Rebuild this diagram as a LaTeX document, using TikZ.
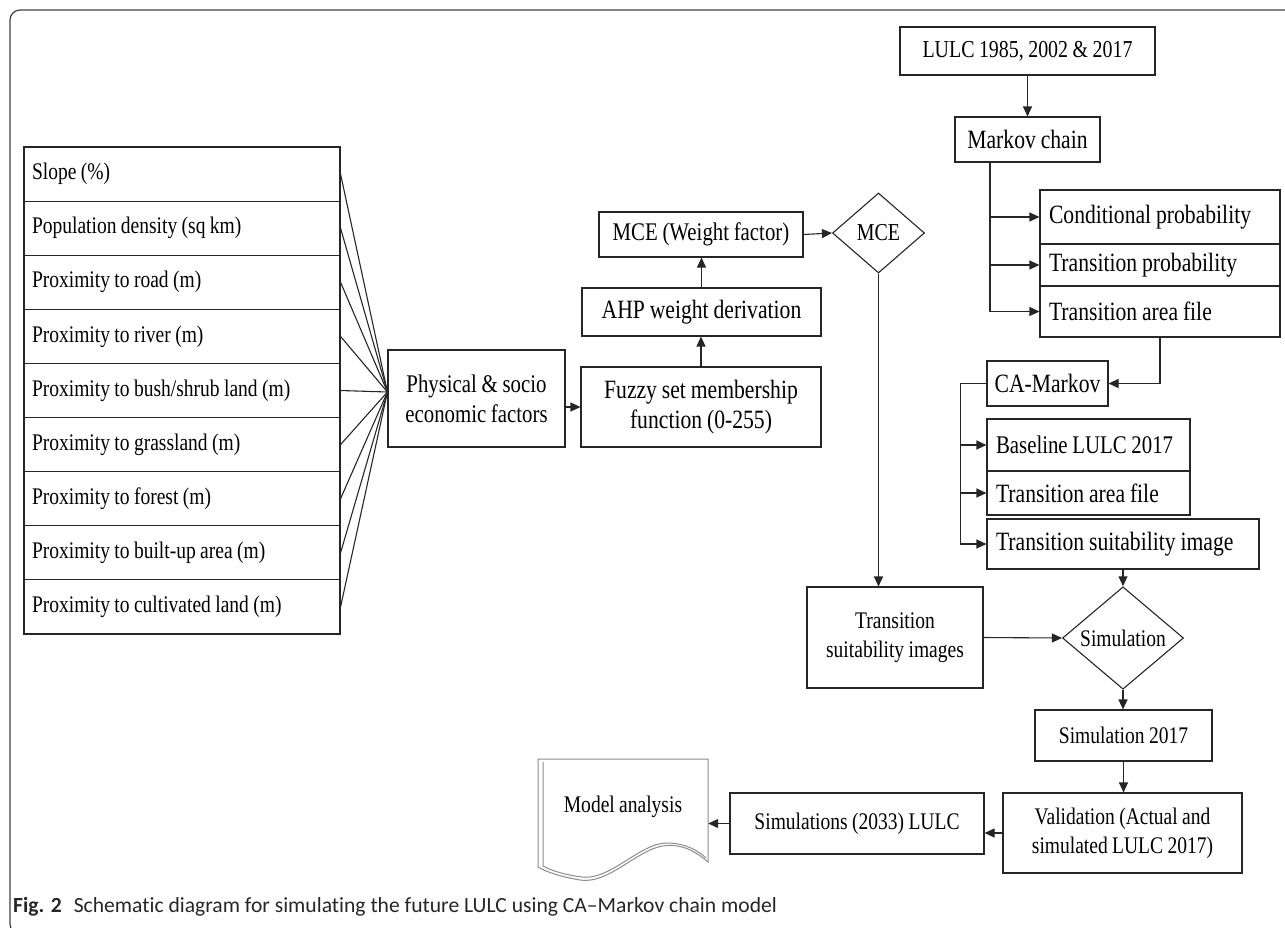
\documentclass[tikz,border=0pt]{standalone}
\usepackage{fontspec}
\setmainfont[FakeStretch=0.82,WordSpace=0.9]{Liberation Serif}
\newfontfamily\capfont[Ligatures=NoCommon]{Carlito}
\usetikzlibrary{arrows.meta,shapes.geometric,calc}
\newcommand\szA{\fontsize{23.8}{29}\selectfont}
\newcommand\szB{\fontsize{26.4}{30}\selectfont}
\newcommand\szM{\fontsize{25.4}{30}\selectfont}
\newcommand\szL{\fontsize{24.3}{28}\selectfont}
\newcommand\zs{\spaceskip=0pt\xspaceskip=0pt\relax}
\tikzset{
  box/.style={draw=black!85, line width=1.1pt, inner sep=0pt, align=center, font=\szB},
  row/.style={box, font=\szA, text width=300pt, align=left, minimum width=316pt, minimum height=54.1pt},
  srow/.style={box, align=left},
  arr/.style={draw=black!85, line width=1.1pt, -{Triangle[length=10pt,width=9pt]}},
  ln/.style={draw=black!85, line width=1.1pt},
  docline/.style={draw=black!45, line width=1pt},
}
\begin{document}
\begin{tikzpicture}[x=1pt,y=-1pt]
\useasboundingbox (0,0) rectangle (1285,927);
\draw[line width=1.2pt, black!75, rounded corners=10pt] (1300,10) -- (10,10) -- (10,934) -- (1300,934);

% left list
\foreach \t [count=\i] in {Slope (\%),Population density (sq km),Proximity to road (m),Proximity to river (m),Proximity to bush/shrub land (m),Proximity to grassland (m),Proximity to forest (m),Proximity to built-up area (m),Proximity to cultivated land (m)}
  \node[row] (r\i) at (182,{147+54.11*(\i-0.5)}) {\zs\t};

\node[box, font=\szM, minimum width=177pt, minimum height=97pt] (phys) at (476.5,398.5) {Physical \& socio\\economic factors};
\coordinate (j) at ([yshift=6.5pt]phys.west);
\foreach \i in {1,...,9} \draw[ln] (r\i.east) -- (j);

\node[box, minimum width=240pt, minimum height=80pt] (fuzzy) at (701,407) {Fuzzy set membership\\function (0-255)};
\node[box, minimum width=239pt, minimum height=48pt] (ahp) at (701.5,312) {AHP weight derivation};
\node[box, font=\szM, minimum width=204pt, minimum height=45pt] (mcew) at (701,234.5) {MCE (Weight factor)};
\node[box, diamond, font=\szL, minimum width=92pt, minimum height=80pt] (mce) at (878.5,233) {MCE};
\draw[arr] (phys.east |- fuzzy.west) -- (fuzzy.west);
\draw[arr] (fuzzy.north) -- (fuzzy.north |- ahp.south);
\draw[arr] (ahp.north) -- (ahp.north |- mcew.south);
\draw[arr] (mcew.east) -- (mce.west);

% Markov part
\node[box, font=\szL, minimum width=255pt, minimum height=48pt] (lulc) at (1027.5,51) {LULC 1985, 2002 \& 2017};
\node[box, minimum width=145pt, minimum height=45pt] (markov) at (1027.5,139.5) {Markov chain};
\draw[arr] (lulc.south) -- (markov.north);
\node[srow, minimum width=240pt, minimum height=54pt, text width=222pt] (cond) at (1160,217) {\zs Conditional probability};
\node[srow, minimum width=240pt, minimum height=42pt, text width=222pt] (tprob) at (1160,265) {\zs Transition probability};
\node[srow, minimum width=240pt, minimum height=51pt, text width=222pt] (tarea) at (1160,311.5) {\zs Transition area file};
\coordinate (mbr) at ([xshift=-37.5pt]markov.south);
\draw[arr] (mbr) |- (cond.west);
\draw[arr] (mbr) |- (tprob.west);
\draw[arr] (mbr) |- (tarea.west);

% CA-Markov part
\node[box, minimum width=121pt, minimum height=45pt] (cam) at (1047.5,383.5) {CA-Markov};
\draw[arr] (tarea.south) |- (cam.east);
\coordinate (cb) at ([xshift=-26pt]cam.west);
\draw[ln] (cam.west) -- (cb);
\node[srow, font=\szM, minimum width=203pt, minimum height=52pt, text width=185pt] (base) at (1088.5,445) {\zs Baseline LULC 2017};
\node[srow, minimum width=203pt, minimum height=44pt, text width=185pt] (tarea2) at (1088.5,493) {\zs Transition area file};
\node[srow, minimum width=272pt, minimum height=50pt, text width=254pt] (tsi) at (1123,544) {\zs Transition suitability image};
\draw[arr] (cb) |- (base.west);
\draw[arr] (cb) |- (tarea2.west);
\draw[arr] (cb) |- (tsi.west);

% simulation part
\node[box, diamond, font=\szA, minimum width=121pt, minimum height=82pt] (sim) at (1123,638) {Simulation};
\draw[arr] (tsi.south) -- (sim.north);
\node[box, font=\szA, minimum width=176pt, minimum height=101pt] (tsimg) at (895,637.5) {Transition\\suitability images};
\draw[arr] (mce.south) -- (mce.south |- tsimg.north);
\draw[arr] (tsimg.east) -- (sim.west);
\node[box, font=\szA, minimum width=177pt, minimum height=51pt] (s17) at (1123.5,735.5) {Simulation 2017};
\draw[arr] (sim.south) -- (sim.south |- s17.north);
\node[box, font=\szA, minimum width=239pt, minimum height=80pt] (val) at (1122.5,833) {Validation (Actual and\\simulated LULC 2017)};
\draw[arr] (s17.south) -- (s17.south |- val.north);
\node[box, font=\szA, minimum width=254pt, minimum height=61pt] (s33) at (857,823.5) {Simulations (2033) LULC};
\draw[arr] (val.west) -- (val.west -| s33.east);

% document shape
\draw[docline] (538,759) -- (708,759) -- (708,862)
  .. controls (690,846) and (672,842) .. (655,848)
  .. controls (630,857) and (606,884) .. (580,880)
  .. controls (562,877) and (546,872) .. (538,867) -- cycle;
\draw[docline] (543,762) -- (543,866)
  .. controls (552,871) and (566,875) .. (582,877)
  .. controls (606,880) and (630,854) .. (655,845)
  .. controls (672,840) and (692,845) .. (706,858);
\node[font=\szA, minimum width=170pt, minimum height=104pt, inner sep=0pt] (doc) at (623,807) {Model analysis};
\draw[arr] (s33.west) -- (s33.west -| doc.east);

% caption
\node[anchor=base west, inner sep=0pt, text=black!85, font=\capfont\fontsize{21.6}{24}\selectfont] (cap) at (13,912) {\textbf{Fig. 2}\hspace{0.55em}Schematic diagram for simulating the future LULC using CA–Markov chain model};
\end{tikzpicture}
\end{document}
